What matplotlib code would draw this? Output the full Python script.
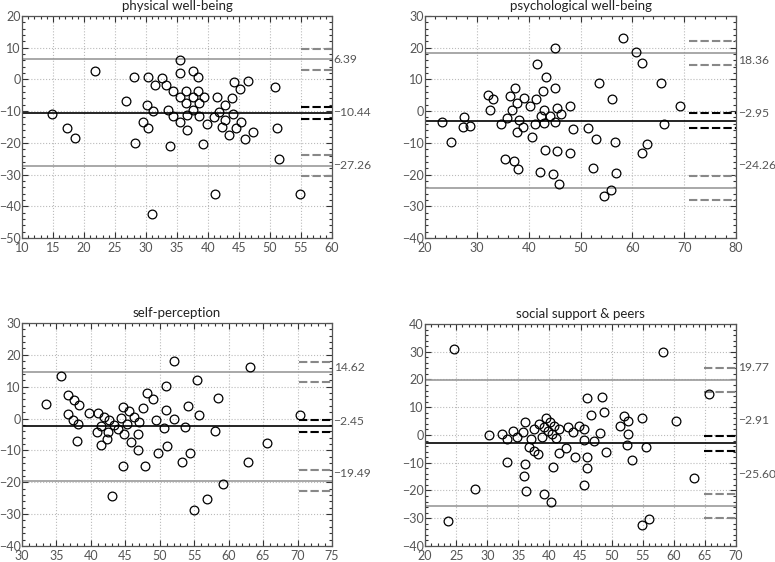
#! /usr/bin/env python3

import matplotlib
matplotlib.use('Agg')
import matplotlib.pyplot as plt
import matplotlib.ticker as ticker
import numpy as np

plt.rcParams['font.family'] = ['Lato', 'DejaVu Sans']

titles = ['physical well-being', 'psychological well-being',
          'self-perception', 'social support & peers']

# means (x) and differences (y) for each domain
phys_x = [14.8, 17.2, 18.6, 21.8, 26.8, 28.1, 28.2, 29.5, 30.1, 30.4, 30.4, 31.1,
          30.9, 31.5, 32.5, 33.3, 33.5, 33.8, 34.4, 34.4, 35.5, 35.5, 35.5, 35.5,
          36.4, 36.4, 36.6, 36.6, 37.5, 37.5, 37.5, 38.4, 38.4, 38.5, 38.5, 39.4,
          39.2, 39.8, 40.9, 41.2, 41.4, 41.8, 42.2, 42.8, 42.8, 43.4, 43.8, 44.1,
          44.2, 44.5, 45.2, 45.4, 45.9, 46.5, 47.2, 50.8, 51.2, 51.5, 54.9]
phys_y = [-10.9, -15.3, -18.6, 2.7, -6.9, 0.8, -19.9, -13.3, -8.1, 0.9, -15.4, -10.1,
          -42.3, -1.7, 0.3, -1.7, -9.6, -21.1, -3.6, -11.4, 6.1, 2.1, -5.6, -13.3,
          -3.6, -7.5, -11.3, -15.9, 2.8, -5.5, -9.5, 0.9, -3.5, -7.5, -11.5, -5.5,
          -20.4, -13.9, -12.0, -36.0, -5.6, -10.2, -14.9, -8.1, -12.9, -17.4, -5.9, -10.9,
          -0.9, -15.3, -3.0, -13.4, -18.7, -0.5, -16.7, -2.3, -15.3, -25.0, -36.0]

psych_x = [23.3, 25.0, 27.5, 27.3, 28.6, 32.2, 33.1, 32.6, 34.6, 35.5, 35.8, 36.3,
           36.7, 37.2, 37.4, 37.8, 37.8, 38.0, 38.2, 38.9, 39.1, 40.2, 40.7, 41.2,
           41.4, 41.5, 42.2, 42.3, 42.7, 42.9, 43.0, 43.1, 43.3, 44.1, 44.7, 45.0,
           45.0, 45.0, 45.4, 45.4, 45.9, 46.3, 47.9, 47.9, 48.5, 51.4, 52.4, 53.0,
           53.5, 54.5, 56.0, 55.9, 56.6, 56.8, 58.1, 60.7, 61.9, 61.9, 62.9, 65.6,
           66.1, 69.2]
psych_y = [-3.3, -9.8, -2.0, -4.9, -4.7, 5.0, 3.9, 0.4, -3.9, -15.2, -2.1, 4.8,
           0.4, -15.8, 7.4, 2.5, -6.7, -18.1, -2.7, -4.9, 4.2, 1.7, -8.0, -3.9,
           3.7, 15.0, -19.2, -1.5, 6.2, -3.8, 0.4, -12.4, 10.8, -1.5, -19.8, 20.0,
           7.4, -3.5, 0.9, -12.7, -23.0, -0.8, 1.7, -13.2, -5.5, -5.3, -17.9, -8.9,
           9.0, -26.9, 3.9, -24.9, -9.6, -19.6, 23.2, 18.8, 15.3, -13.2, -10.3, 9.0,
           -4.2, 1.7]

self_x = [33.5, 35.6, 36.7, 36.7, 37.4, 37.6, 38.0, 38.2, 38.3, 39.7, 40.9, 41.1,
          41.5, 41.5, 41.9, 42.4, 42.5, 42.7, 43.1, 43.4, 44.0, 44.3, 44.6, 44.8,
          44.6, 45.2, 45.5, 45.8, 46.2, 46.8, 47.0, 46.9, 47.6, 47.9, 48.1, 49.0,
          49.4, 49.7, 50.6, 50.9, 50.9, 51.0, 52.0, 52.0, 53.2, 53.6, 54.1, 54.4,
          55.0, 55.4, 55.7, 56.9, 58.0, 58.4, 59.2, 62.8, 63.1, 65.5, 70.3]
self_y = [4.6, 13.5, 7.4, 1.4, -0.4, 5.9, -7.2, -1.6, 4.1, 1.9, -4.1, 1.7,
          -2.2, -8.3, 0.5, -6.5, -4.1, -0.6, -24.3, -2.1, -3.4, 0.3, 3.5, -5.0,
          -14.8, -1.6, 2.4, -7.3, 0.5, -4.8, -1.1, -9.8, 3.3, -14.8, 8.0, 6.2,
          -0.6, -10.8, -3.0, 10.2, 2.7, -8.5, 18.2, 0.0, -13.6, -2.6, 3.8, -10.7,
          -28.7, 12.0, 1.1, -25.2, -3.8, 6.3, -20.4, -13.6, 16.1, -7.7, 1.2]

social_x = [24.7, 23.7, 28.0, 30.3, 32.4, 33.1, 33.1, 34.1, 34.8, 35.7, 36.0, 36.0,
            35.9, 36.2, 36.7, 37.1, 37.5, 37.5, 38.2, 38.3, 38.8, 39.1, 39.1, 39.5,
            39.7, 40.1, 40.2, 40.4, 40.5, 40.8, 41.1, 41.5, 41.5, 42.6, 43.0, 43.8,
            44.1, 44.8, 45.5, 45.5, 45.6, 46.1, 46.1, 46.1, 46.7, 47.1, 48.2, 48.5,
            48.8, 49.1, 51.4, 51.9, 52.6, 52.6, 52.5, 53.2, 54.9, 54.9, 55.5, 56.0,
            58.2, 60.4, 63.2, 65.6]
social_y = [31.0, -31.1, -19.5, -0.1, 0.5, -1.5, -9.8, 1.5, -0.7, 1.1, 4.6, -10.6,
            -14.9, -20.2, -4.5, -1.3, 2.1, -5.8, -7.0, 3.9, -0.7, 2.7, -21.4, 6.1,
            1.6, 4.6, -24.0, 0.4, -11.6, 3.3, -1.1, 2.2, -6.6, -4.6, 2.7, 1.1,
            -7.9, 3.3, 2.0, -1.9, -18.2, 13.4, -7.9, -11.8, 7.2, -2.0, 0.7, 13.7,
            8.4, -6.0, 3.2, 7.0, 5.2, 0.5, -3.7, -9.1, 6.1, -32.5, -4.5, -30.4,
            29.9, 5.1, -15.6, 14.9]

# limits of agreement: upper, mean, lower
loa = [(6.39, -10.44, -27.26), (18.36, -2.95, -24.26),
       (14.62, -2.45, -19.49), (19.77, -2.91, -25.60)]
# 95% confidence half-widths for the limits and the mean
ci_loa = [3.3, 3.9, 3.2, 4.35]
ci_mean = [1.9, 2.25, 1.9, 2.7]

xs = [phys_x, psych_x, self_x, social_x]
ys = [phys_y, psych_y, self_y, social_y]

# axis setup
xlims = [(10, 60), (20, 80), (30, 75), (20, 70)]
ylims = [(-50, 20), (-40, 30), (-40, 30), (-40, 40)]
xmajor = [5, 10, 5, 5]
xminor = [1, 2, 1, 1]
ci_x0 = [55, 71, 70.2, 64.9]
label_y = [(6.39, -10.44, -27.26), (16.0, -0.7, -17.1),
           (16.1, -0.9, -17.4), (24.4, 5.1, -14.1)]

boxes = [[0.0284, 0.5765, 0.400, 0.395],
         [0.5485, 0.5765, 0.4013, 0.395],
         [0.0284, 0.0285, 0.400, 0.3968],
         [0.5485, 0.0285, 0.4013, 0.3950]]

txt = '#555555'
fs = 9
fig = plt.figure(figsize=(7.75, 5.62), dpi=100)

for i in range(4):
    ax = fig.add_axes(boxes[i])
    ax.plot(xs[i], ys[i], 'o', mfc='none', mec='black', ms=6.3, mew=0.9,
            zorder=4)
    up, mn, lo = loa[i]
    ax.axhline(up, color='#999999', lw=1.2, zorder=2)
    ax.axhline(lo, color='#999999', lw=1.2, zorder=2)
    ax.axhline(mn, color='black', lw=1.2, zorder=2)

    x0, x1 = ci_x0[i], xlims[i][1]
    for v in (up, lo):
        for s in (-1, 1):
            ax.plot([x0, x1], [v + s * ci_loa[i]] * 2, color='#888888',
                    lw=1.5, ls=(0, (4, 1.5)), zorder=3)
    for s in (-1, 1):
        ax.plot([x0, x1], [mn + s * ci_mean[i]] * 2, color='black',
                lw=1.5, ls=(0, (4, 1.5)), zorder=3)

    for v, ly in zip(loa[i], label_y[i]):
        ax.text(1.005, ly, '%.2f' % v if v >= 0 else '\u2212%.2f' % -v,
                transform=ax.get_yaxis_transform(), va='center', ha='left',
                fontsize=8.7, color=txt)

    ax.set_xlim(*xlims[i])
    ax.set_ylim(*ylims[i])
    ax.xaxis.set_major_locator(ticker.MultipleLocator(xmajor[i]))
    ax.xaxis.set_minor_locator(ticker.MultipleLocator(xminor[i]))
    ax.yaxis.set_major_locator(ticker.MultipleLocator(10))
    ax.yaxis.set_minor_locator(ticker.MultipleLocator(2))
    ax.tick_params(which='both', direction='in', top=True, right=True,
                   labelsize=fs, labelcolor=txt, color='#333333', width=0.8)
    ax.tick_params(which='major', length=4)
    ax.tick_params(axis='y', which='major', pad=1)
    ax.tick_params(axis='x', which='major', pad=3)
    ax.tick_params(which='minor', length=2)
    ax.grid(True, which='major', ls=':', color='#bbbbbb', lw=0.8)
    for sp in ax.spines.values():
        sp.set_color('#555555')
        sp.set_linewidth(0.9)
    ax.set_title(titles[i], fontsize=9.5, color='#222222', pad=4)

fig.savefig('out.png', dpi=100)
